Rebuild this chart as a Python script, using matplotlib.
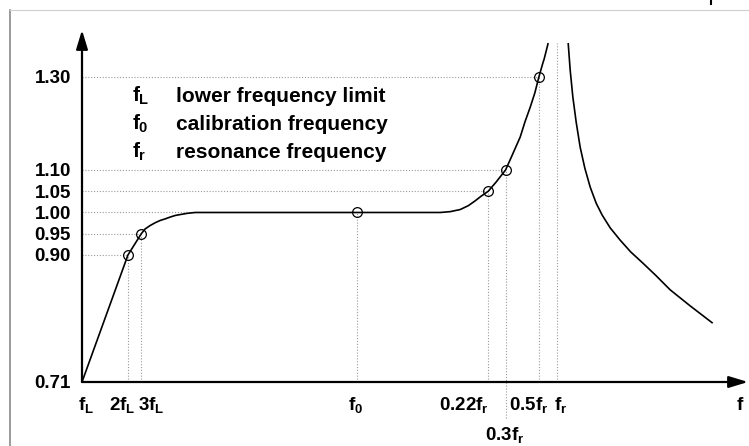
"""Frequency response sketch of a vibration transducer (relative sensitivity vs frequency)."""

import matplotlib
matplotlib.use("Agg")
import matplotlib.pyplot as plt
import numpy as np
from matplotlib.lines import Line2D

plt.rcParams["font.family"] = "Liberation Sans"
plt.rcParams["font.weight"] = "bold"
plt.rcParams["mathtext.fontset"] = "custom"
plt.rcParams["mathtext.rm"] = "Liberation Sans:bold"
plt.rcParams["mathtext.it"] = "Liberation Sans:bold"
plt.rcParams["mathtext.bf"] = "Liberation Sans:bold"

# relative sensitivity ticks and nominal (schematic) frequency positions, axis runs 0..100
y_ticks = [0.71, 0.90, 0.95, 1.00, 1.05, 1.10, 1.30]
x_tick_pos = [0.0, 6.9, 8.9, 41.3, 61.0, 63.6, 68.6, 71.3]
x_tick_labels = [r"$f_L$", r"$2f_L$", r"$3f_L$", r"$f_0$", r"$0.22f_r$", r"$0.3f_r$", r"$0.5f_r$", r"$f_r$"]

# response curve below resonance
rise_x = [0.0, 6.9, 8.9, 9.46, 10.2, 11.0, 11.7, 12.5, 13.2, 14.0, 14.7, 15.8, 17.0,
          41.3, 52.7, 53.8, 55.3, 56.8, 58.0, 59.0, 59.9, 61.0, 62.2, 63.6,
          64.6, 65.8, 66.5, 67.3, 68.0, 68.6, 69.2, 69.4, 70.0]
rise_y = [0.71, 0.90, 0.95, 0.961, 0.969, 0.976, 0.981, 0.985, 0.989, 0.993, 0.995, 0.998, 1.00,
          1.00, 1.00, 1.000, 1.002, 1.007, 1.016, 1.027, 1.038, 1.05, 1.072, 1.10,
          1.132, 1.171, 1.203, 1.235, 1.266, 1.30, 1.330, 1.339, 1.373]
# response curve above resonance
fall_x = [73.0, 73.3, 73.7, 74.2, 74.8, 75.5, 76.3, 77.2, 78.1, 79.3, 80.8, 82.4,
          84.2, 86.2, 88.3, 91.3, 94.7]
fall_y = [1.373, 1.315, 1.257, 1.203, 1.149, 1.104, 1.060, 1.022, 0.994, 0.964, 0.935, 0.907,
          0.888, 0.869, 0.848, 0.824, 0.798]

# marked points (open circles)
mark_x = [6.9, 8.9, 41.3, 61.0, 63.6, 68.6]
mark_y = [0.90, 0.95, 1.00, 1.05, 1.10, 1.30]
fr_top = 1.373

legend_symbols = [r"$f_L$", r"$f_0$", r"$f_r$"]
legend_texts = ["lower frequency limit", "calibration frequency", "resonance frequency"]

# layout only: label centres on the x axis (they are nudged apart where they would collide)
x_label_at = [0.6, 6.0, 10.4, 41.0, 57.4, 63.5, 67.1, 71.8]
x_label_row = [0, 0, 0, 0, 0, 1, 0, 0]

W, H = 749, 446
fig = plt.figure(figsize=(W / 100, H / 100), dpi=100)
ax = fig.add_axes([82 / W, 64 / H, 666 / W, 352 / H])

# schematic, stretched gain axis: piecewise linear in pixels above the baseline
knot_g = [0.0, 0.71, 0.90, 1.10, 1.30, 2.0]
knot_p = [-474.0, 0.0, 127.0, 212.0, 305.0, 305.0 + 0.7 * 465.0]


def fwd(v):
    return np.interp(v, knot_g, knot_p)


def inv(p):
    return np.interp(p, knot_p, knot_g)


ax.set_yscale("function", functions=(fwd, inv))
ax.set_xlim(0, 100)
ax.set_ylim(0.71, 1.401)
for s in ax.spines.values():
    s.set_visible(False)

guide = dict(color="#9a9a9a", lw=0.8, ls=(0, (1, 1.6)))
for mx, my in zip(mark_x, mark_y):
    ax.plot([0, mx], [my, my], **guide)
    bottom = 0.656 if my == 1.10 else 0.71
    ax.plot([mx, mx], [bottom, my], clip_on=False, **guide)
ax.plot([x_tick_pos[-1]] * 2, [0.71, fr_top], **guide)

ax.plot(rise_x, rise_y, color="black", lw=1.2, solid_capstyle="butt", solid_joinstyle="round")
ax.plot(fall_x, fall_y, color="black", lw=1.2, solid_capstyle="butt", solid_joinstyle="round")
ax.plot(mark_x, mark_y, ls="none", marker="o", ms=7, mfc="none", mec="black", mew=0.9)

arrow = dict(arrowstyle="-|>,head_length=1.15,head_width=0.35", lw=1.6, color="black",
             mutation_scale=10, shrinkA=0, shrinkB=0)
ax.annotate("", xy=(0, 1), xytext=(0, 0), xycoords="axes fraction", arrowprops=arrow)
ax.annotate("", xy=(1, 0), xytext=(0, 0), xycoords="axes fraction", arrowprops=arrow)

ax.set_xticks([])
ax.set_yticks(y_ticks)
ax.set_yticklabels([f"{v:.2f}" for v in y_ticks])
ax.yaxis.set_minor_locator(matplotlib.ticker.NullLocator())
ax.tick_params(axis="y", length=0, pad=8, labelsize=13.5)

for lx, lab, row in zip(x_label_at, x_tick_labels, x_label_row):
    ax.annotate(lab, xy=(lx, 0), xycoords=("data", "axes fraction"), xytext=(0, -28 - 30 * row),
                textcoords="offset pixels", ha="center", va="baseline", fontsize=13.5)
ax.annotate(r"$f$", xy=(98.9, 0), xycoords=("data", "axes fraction"), xytext=(0, -28),
            textcoords="offset pixels", ha="center", va="baseline", fontsize=13.5)

for i, (sym, txt) in enumerate(zip(legend_symbols, legend_texts)):
    yb = 1 - (102 + 28 * i) / H
    fig.text(132 / W, yb, sym, ha="left", va="baseline", fontsize=15)
    fig.text(176 / W, yb, txt, ha="left", va="baseline", fontsize=15)

# frame remnants of the original page
fig.add_artist(Line2D([9.5 / W] * 2, [0, 1 - 10 / H], color="#808080", lw=1.1))
fig.add_artist(Line2D([10 / W, 1], [1 - 10 / H] * 2, color="#cfcfcf", lw=0.8))
fig.add_artist(Line2D([711 / W] * 2, [1, 1 - 3.5 / H], color="black", lw=1.5))

fig.savefig("out.png", dpi=100)
